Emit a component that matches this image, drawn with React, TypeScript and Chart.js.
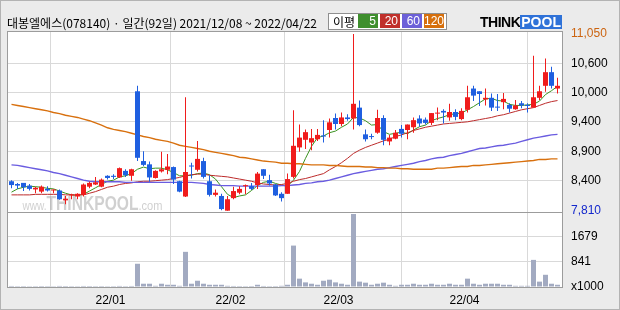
import React, { useEffect, useRef } from "react";
import { Chart, registerables } from "chart.js";

Chart.register(...registerables);

// ---------------- DATA ----------------
const chartTitle = "대봉엘에스(078140) · 일간(92일) 2021/12/08 ~ 2022/04/22";
const maLegendTitle = "이평";
const maPeriods = [5, 20, 60, 120];

const dates = [
  "2021/12/08", "2021/12/09", "2021/12/10", "2021/12/13", "2021/12/14", "2021/12/15", "2021/12/16", "2021/12/17",
  "2021/12/20", "2021/12/21", "2021/12/22", "2021/12/23", "2021/12/24", "2021/12/27", "2021/12/28", "2021/12/29",
  "2021/12/30",
  "2022/01/03", "2022/01/04", "2022/01/05", "2022/01/06", "2022/01/07", "2022/01/10", "2022/01/11", "2022/01/12",
  "2022/01/13", "2022/01/14", "2022/01/17", "2022/01/18", "2022/01/19", "2022/01/20", "2022/01/21", "2022/01/24",
  "2022/01/25", "2022/01/26", "2022/01/27", "2022/01/28",
  "2022/02/03", "2022/02/04", "2022/02/07", "2022/02/08", "2022/02/09", "2022/02/10", "2022/02/11", "2022/02/14",
  "2022/02/15", "2022/02/16", "2022/02/17", "2022/02/18", "2022/02/21", "2022/02/22", "2022/02/23", "2022/02/24",
  "2022/02/25", "2022/02/28",
  "2022/03/02", "2022/03/03", "2022/03/04", "2022/03/07", "2022/03/08", "2022/03/10", "2022/03/11", "2022/03/14",
  "2022/03/15", "2022/03/16", "2022/03/17", "2022/03/18", "2022/03/21", "2022/03/22", "2022/03/23", "2022/03/24",
  "2022/03/25", "2022/03/28", "2022/03/29", "2022/03/30", "2022/03/31",
  "2022/04/01", "2022/04/04", "2022/04/05", "2022/04/06", "2022/04/07", "2022/04/08", "2022/04/11", "2022/04/12",
  "2022/04/13", "2022/04/14", "2022/04/15", "2022/04/18", "2022/04/19", "2022/04/20", "2022/04/21", "2022/04/22",
];

const opens = [
  8350, 8300, 8320, 8270, 8200, 8160, 8210, 8180, 8180, 8000, 8090, 8070, 8100, 8250, 8290, 8250, 8450,
  8450, 8420, 8540, 8450, 10000, 8720, 8660, 8410, 8530, 8560, 8610, 8350, 8070, 8630, 8560, 8720, 8350, 8100, 8080, 7810,
  8040, 8140, 8260, 8260, 8280, 8570, 8370, 8290, 8120, 8120, 8430, 8970, 9110, 9060, 9120, 9190, 9290, 9510,
  9400, 9520, 9500, 9700, 9210, 9170, 9240, 9510, 9080, 9130, 9310, 9290, 9340, 9500, 9480, 9420, 9590, 9640, 9520, 9620, 9490,
  9660, 10050, 10000, 9850, 9880, 9710, 9800, 9750, 9670, 9780, 9750, 9700, 9880, 10100, 10350, 10050,
];
const highs = [
  8370, 8320, 8320, 8300, 8250, 8270, 8260, 8200, 8200, 8080, 8120, 8130, 8310, 8340, 8430, 8400, 8460,
  8480, 8600, 8570, 8580, 10100, 8900, 8710, 8550, 8890, 8850, 8620, 8360, 9890, 8690, 9090, 8780, 8460, 8200, 8120, 8080,
  8250, 8260, 8290, 8320, 8520, 8570, 8470, 8300, 8150, 8490, 9650, 9390, 9300, 9310, 9310, 9470, 9500, 9590,
  9610, 9580, 11050, 9830, 9300, 9220, 9660, 9560, 9200, 9290, 9380, 9390, 9520, 9560, 9520, 9600, 9700, 9670, 9770, 9670, 9690,
  10100, 10100, 10000, 10050, 9960, 9950, 9970, 9780, 9840, 9820, 9780, 10650, 10100, 10600, 10450, 10250,
];
const lows = [
  8220, 8210, 8170, 8180, 8130, 8130, 8160, 8130, 8010, 7930, 8020, 8020, 8070, 8220, 8280, 8240, 8380,
  8390, 8410, 8430, 8360, 8720, 8630, 8340, 8400, 8510, 8480, 8300, 8150, 8060, 8400, 8530, 8400, 8070, 8070, 7820, 7810,
  8020, 8110, 8110, 8190, 8210, 8390, 8270, 8080, 7980, 8120, 8400, 8890, 8940, 8920, 9090, 9060, 9150, 9300,
  9360, 9460, 9300, 9360, 9080, 9120, 9220, 9010, 9010, 9120, 9150, 9120, 9240, 9350, 9390, 9380, 9470, 9410, 9460, 9470, 9470,
  9610, 9820, 9730, 9740, 9640, 9640, 9670, 9610, 9660, 9690, 9610, 9700, 9840, 9990, 10050, 9960,
];
const closes = [
  8280, 8270, 8240, 8210, 8230, 8250, 8180, 8190, 8020, 8030, 8100, 8120, 8290, 8320, 8330, 8380, 8410,
  8430, 8590, 8460, 8570, 8780, 8650, 8420, 8540, 8570, 8620, 8380, 8160, 8520, 8620, 8760, 8430, 8100, 8140, 7840, 8020,
  8170, 8210, 8270, 8210, 8490, 8450, 8310, 8090, 8040, 8390, 9000, 9150, 9250, 9140, 9200, 9170, 9430, 9400,
  9520, 9490, 9770, 9380, 9120, 9160, 9510, 9110, 9150, 9240, 9220, 9390, 9470, 9410, 9420, 9600, 9600, 9610, 9620, 9530, 9640,
  9890, 9920, 9950, 9880, 9700, 9700, 9860, 9680, 9740, 9740, 9730, 9890, 10000, 10350, 10100, 10100,
];
// volume in thousands of shares
const volumes = [
  35, 30, 32, 28, 30, 33, 30, 28, 36, 34, 30, 28, 35, 33, 30, 32, 28,
  30, 36, 30, 35, 780, 110, 110, 40, 110, 75, 75, 40, 1180, 110, 210, 110, 75, 75, 75, 40,
  35, 32, 30, 33, 75, 35, 30, 32, 40, 75, 1390, 280, 155, 110, 75, 210, 245, 155,
  110, 75, 2450, 180, 145, 75, 110, 145, 75, 40, 75, 75, 110, 75, 75, 110, 75, 75, 110, 75, 75,
  280, 110, 75, 110, 110, 110, 75, 75, 40, 40, 40, 910, 180, 410, 110, 75,
];

const ma5 = [
  8150, 8210, 8240, 8260, 8250, 8240, 8220, 8210, 8170, 8130, 8100, 8090, 8110, 8170, 8230, 8290, 8350,
  8370, 8430, 8450, 8490, 8570, 8610, 8580, 8590, 8590, 8560, 8510, 8450, 8450, 8460, 8490, 8500, 8470, 8390, 8250, 8110,
  8050, 8080, 8100, 8180, 8270, 8330, 8350, 8310, 8280, 8260, 8370, 8530, 8770, 8990, 9150, 9180, 9240, 9270,
  9340, 9400, 9520, 9510, 9460, 9380, 9390, 9260, 9210, 9230, 9250, 9220, 9290, 9350, 9380, 9460, 9500, 9530, 9570, 9590, 9600,
  9660, 9720, 9790, 9860, 9870, 9830, 9820, 9760, 9740, 9740, 9750, 9760, 9820, 9940, 10010, 10090,
];
const ma20 = [
  8100, 8100, 8100, 8100, 8110, 8110, 8110, 8110, 8110, 8100, 8100, 8100, 8100, 8130, 8160, 8200, 8240,
  8260, 8290, 8310, 8320, 8340, 8350, 8350, 8360, 8370, 8380, 8400, 8420, 8450, 8470, 8480, 8480, 8460, 8450, 8440, 8430,
  8410, 8390, 8370, 8350, 8320, 8300, 8290, 8280, 8290, 8310, 8350, 8380, 8400, 8430, 8460, 8490, 8560, 8620,
  8690, 8770, 8860, 8920, 8970, 9010, 9050, 9090, 9120, 9170, 9200, 9240, 9280, 9310, 9340, 9360, 9380, 9400, 9410, 9420, 9430,
  9440, 9460, 9480, 9500, 9520, 9550, 9570, 9600, 9630, 9660, 9680, 9700, 9740, 9780, 9810, 9830,
];
const ma60 = [
  8650, 8640, 8620, 8600, 8580, 8560, 8540, 8510, 8490, 8460, 8430, 8400, 8370, 8350, 8340, 8340, 8340,
  8340, 8340, 8330, 8330, 8330, 8330, 8330, 8330, 8330, 8330, 8330, 8330, 8330, 8330, 8320, 8310, 8290, 8280, 8270, 8270,
  8270, 8260, 8260, 8260, 8260, 8260, 8260, 8260, 8270, 8270, 8280, 8290, 8310, 8320, 8340, 8350, 8370, 8400,
  8430, 8460, 8490, 8510, 8530, 8550, 8570, 8580, 8600, 8620, 8640, 8660, 8680, 8710, 8730, 8760, 8780, 8790, 8820, 8840, 8860,
  8890, 8920, 8950, 8960, 8980, 9000, 9010, 9030, 9050, 9080, 9110, 9140, 9160, 9180, 9200, 9210,
];
const ma120 = [
  9760, 9740, 9720, 9700, 9680, 9660, 9640, 9610, 9590, 9560, 9540, 9520, 9490, 9460, 9420, 9380, 9330,
  9300, 9280, 9260, 9230, 9200, 9170, 9150, 9120, 9100, 9080, 9050, 9010, 8990, 8970, 8950, 8930, 8900, 8880, 8860, 8840,
  8820, 8790, 8780, 8760, 8740, 8720, 8710, 8700, 8680, 8680, 8670, 8670, 8660, 8650, 8650, 8650, 8640, 8640,
  8630, 8620, 8620, 8620, 8610, 8610, 8600, 8600, 8590, 8590, 8580, 8580, 8570, 8570, 8570, 8570, 8590, 8590, 8600, 8610, 8620,
  8620, 8640, 8640, 8650, 8660, 8670, 8680, 8690, 8700, 8710, 8720, 8730, 8750, 8750, 8760, 8760,
];

// price axis: evenly spaced grid values with the (rounded) labels the chart prints
const priceGridValues = [10513, 9981, 9437, 8898, 8360];
const priceGridLabels = ["10,600", "10,000", "9,400", "8,900", "8,400"];
const priceAxisMin = 7786;
const priceAxisMax = 11105;
const volumeGridValues = [841, 1679];
const volumeUnitLabel = "x1000";
const volumeAxisMax = 2517;

// ---------------- STYLE ----------------
const FONT = "'Liberation Sans', Arial, sans-serif";
const UP = "#f01c1c";
const DOWN = "#1f5fe0";
const GRID = "#d9d9d9";
const FRAME = "#9c9c9c";
const MA_COLORS = ["#3b9320", "#bd2b2b", "#6a5ce0", "#d8700e"];
const LEGEND_COLORS = ["#3f8f2e", "#c0302b", "#6c60d8", "#d66f0c"];
const VOL_COLOR = "#a2aac1";
const HIGH_COLOR = "#cc6410";
const LOW_COLOR = "#1428cc";

const priceHigh = Math.max(...highs);
const priceLow = Math.min(...lows);
const fmt = (v: number) => v.toLocaleString("en-US");

const monthStarts: number[] = [];
dates.forEach((d, i) => {
  if (i > 0 && d.slice(0, 7) !== dates[i - 1].slice(0, 7)) monthStarts.push(i);
});
const monthLabels = monthStarts.map((i) => dates[i].slice(2, 4) + "/" + dates[i].slice(5, 7));

const framePlugin = {
  id: "frame",
  beforeDraw(chart: any) {
    const { ctx, chartArea: a } = chart;
    ctx.save();
    ctx.fillStyle = "#ffffff";
    ctx.fillRect(a.left, a.top, a.right - a.left, a.bottom - a.top);
    ctx.restore();
  },
  beforeDatasetsDraw(chart: any) {
    const { ctx, chartArea: a } = chart;
    const base = chart.scales.y.bottom - 2;
    const parts = [
      { t: "www.", f: `13px ${FONT}`, w: 24 },
      { t: "THINKPOOL", f: `bold 20px ${FONT}`, w: 92 },
      { t: ".com", f: `13px ${FONT}`, w: 24 },
    ];
    let x = a.left + 15.5;
    ctx.save();
    ctx.fillStyle = "rgba(150,150,150,0.45)";
    ctx.textBaseline = "alphabetic";
    for (const p of parts) {
      ctx.font = p.f;
      const mw = ctx.measureText(p.t).width;
      ctx.save();
      ctx.translate(x, base);
      ctx.scale(p.w / mw, 1);
      ctx.fillText(p.t, 0, 0);
      ctx.restore();
      x += p.w;
    }
    ctx.restore();
  },
  afterDraw(chart: any) {
    const { ctx, chartArea: a } = chart;
    const mid = chart.scales.y.bottom;
    ctx.save();
    ctx.strokeStyle = FRAME;
    ctx.lineWidth = 1;
    ctx.strokeRect(Math.round(a.left) + 0.5, Math.round(a.top) + 0.5, Math.round(a.right - a.left), Math.round(a.bottom - a.top));
    ctx.beginPath();
    ctx.moveTo(a.left, Math.round(mid) + 0.5);
    ctx.lineTo(a.right + 1, Math.round(mid) + 0.5);
    ctx.stroke();
    ctx.restore();
  },
};

export default function App() {
  const ref = useRef<HTMLCanvasElement>(null);

  useEffect(() => {
    const canvas = ref.current;
    if (!canvas) return;
    const colors = closes.map((c, i) => (c >= opens[i] ? UP : DOWN));
    const maSeries = [ma5, ma20, ma60, ma120];

    const chart = new Chart(canvas, {
      type: "bar",
      data: {
        datasets: [
          {
            type: "bar",
            label: "body",
            data: opens.map((o, i) => ({ x: i, y: [o, closes[i]] })) as any,
            backgroundColor: colors,
            barThickness: 5,
            minBarLength: 1,
            grouped: false,
            inflateAmount: 0,
            borderWidth: 0,
            yAxisID: "y",
            order: 1,
          } as any,
          {
            type: "bar",
            label: "wick",
            data: lows.map((l, i) => ({ x: i, y: [l, highs[i]] })) as any,
            backgroundColor: colors,
            barThickness: 1,
            grouped: false,
            inflateAmount: 0,
            borderWidth: 0,
            yAxisID: "y",
            order: 2,
          } as any,
          ...maSeries
            .map((s, k) => ({
              type: "line",
              label: "MA" + maPeriods[k],
              data: s.map((v, i) => ({ x: i, y: v })),
              borderColor: MA_COLORS[k],
              borderWidth: k >= 2 ? 1.4 : 1,
              pointRadius: 0,
              fill: false,
              tension: 0,
              yAxisID: "y",
              order: 6 - k,
            }))
            .reverse() as any,
          {
            type: "bar",
            label: "volume",
            data: volumes.map((v, i) => ({ x: i, y: v })) as any,
            backgroundColor: VOL_COLOR,
            barThickness: 5,
            grouped: false,
            inflateAmount: 0,
            borderWidth: 0,
            yAxisID: "yv",
            order: 10,
          } as any,
        ],
      },
      options: {
        animation: false,
        responsive: false,
        maintainAspectRatio: false,
        devicePixelRatio: 1,
        events: [],
        layout: { padding: { left: 7, top: 31, right: 0, bottom: 0 } },
        plugins: {
          legend: { display: false },
          tooltip: { enabled: false },
          title: { display: false },
        },
        scales: {
          x: {
            type: "linear",
            min: -0.75,
            max: dates.length - 0.25,
            offset: false,
            afterBuildTicks: (s: any) => {
              s.ticks = monthStarts.map((i) => ({ value: i - 0.5 }));
            },
            grid: { color: GRID, drawTicks: false, lineWidth: 1 },
            border: { display: false },
            ticks: {
              autoSkip: false,
              maxRotation: 0,
              minRotation: 0,
              padding: 6,
              color: "#000",
              font: { family: FONT, size: 12 },
              callback: (_v: any, idx: number) => monthLabels[idx] ?? "",
            },
            afterFit: (s: any) => {
              s.height = 23;
            },
          } as any,
          y: {
            type: "linear",
            position: "right",
            stack: "panels",
            stackWeight: 181,
            weight: 1,
            min: priceAxisMin,
            max: priceAxisMax,
            afterBuildTicks: (s: any) => {
              s.ticks = [priceHigh, ...priceGridValues, priceLow].map((v) => ({ value: v }));
            },
            grid: {
              drawTicks: false,
              lineWidth: 1,
              color: (ctx: any) =>
                ctx.tick && priceGridValues.includes(ctx.tick.value) ? GRID : "rgba(0,0,0,0)",
            },
            border: { display: false },
            ticks: {
              autoSkip: false,
              padding: 9,
              font: { family: FONT, size: 12 },
              color: (ctx: any) =>
                ctx.tick && ctx.tick.value === priceHigh
                  ? HIGH_COLOR
                  : ctx.tick && ctx.tick.value === priceLow
                  ? LOW_COLOR
                  : "#000",
              callback: (v: any) => {
                const k = priceGridValues.indexOf(v);
                return k >= 0 ? priceGridLabels[k] : fmt(v);
              },
            },
            afterFit: (s: any) => {
              s.width = 58;
            },
          } as any,
          yv: {
            type: "linear",
            position: "right",
            stack: "panels",
            stackWeight: 75,
            weight: 2,
            min: 0,
            max: volumeAxisMax,
            afterBuildTicks: (s: any) => {
              s.ticks = [0, ...volumeGridValues].map((v) => ({ value: v }));
            },
            grid: {
              drawTicks: false,
              lineWidth: 1,
              color: (ctx: any) => (ctx.tick && ctx.tick.value > 0 ? GRID : "rgba(0,0,0,0)"),
            },
            border: { display: false },
            ticks: {
              autoSkip: false,
              padding: 9,
              font: { family: FONT, size: 12 },
              color: "#000",
              callback: (v: any) => (v === 0 ? volumeUnitLabel : String(v)),
            },
            afterFit: (s: any) => {
              s.width = 58;
            },
          } as any,
        },
      },
      plugins: [framePlugin],
    } as any);

    return () => chart.destroy();
  }, []);

  return (
    <div
      style={{
        position: "fixed",
        left: 0,
        top: 0,
        width: 620,
        height: 310,
        background: "#ebebeb",
        overflow: "hidden",
      }}
    >
      <canvas
        ref={ref}
        width={620}
        height={310}
        style={{ position: "absolute", left: 0, top: 0, width: 620, height: 310 }}
      />
      <div
        style={{
          position: "absolute",
          left: 7,
          top: 14,
          height: 17,
          lineHeight: "17px",
          fontFamily: "'Noto Sans CJK KR', sans-serif",
          fontSize: 12,
          color: "#000",
          whiteSpace: "nowrap",
        }}
      >
        {chartTitle}
      </div>
      <div
        style={{
          position: "absolute",
          left: 328,
          top: 13,
          width: 119,
          height: 17,
          boxSizing: "border-box",
          border: "1px solid #8f8f8f",
          background: "#ffffff",
        }}
      />
      <div
        style={{
          position: "absolute",
          left: 333,
          top: 13,
          height: 17,
          lineHeight: "17px",
          fontFamily: "'Noto Sans CJK KR', sans-serif",
          fontSize: 12,
          color: "#000",
        }}
      >
        {maLegendTitle}
      </div>
      {maPeriods.map((p, k) => (
        <div
          key={p}
          style={{
            position: "absolute",
            left: 358 + 22 * k,
            top: 14,
            width: 20,
            height: 14,
            background: LEGEND_COLORS[k],
            color: "#ffffff",
            fontFamily: FONT,
            fontSize: 12,
            lineHeight: "14px",
            textAlign: "right",
            paddingRight: 2,
            boxSizing: "border-box",
          }}
        >
          {p}
        </div>
      ))}
      <div
        style={{
          position: "absolute",
          left: 480,
          top: 15,
          height: 14,
          display: "flex",
          alignItems: "center",
          fontFamily: FONT,
          fontWeight: "bold",
          fontSize: 14,
          lineHeight: "14px",
        }}
      >
        <span style={{ color: "#000", letterSpacing: -0.5 }}>THINK</span>
        <span style={{ color: "#fff", background: "#2f72d8", padding: "0 1px" }}>POOL</span>
      </div>
      <div
        style={{
          position: "absolute",
          left: 0,
          top: 0,
          width: 620,
          height: 310,
          boxSizing: "border-box",
          border: "1px solid #b3b3b3",
          pointerEvents: "none",
        }}
      />
    </div>
  );
}
